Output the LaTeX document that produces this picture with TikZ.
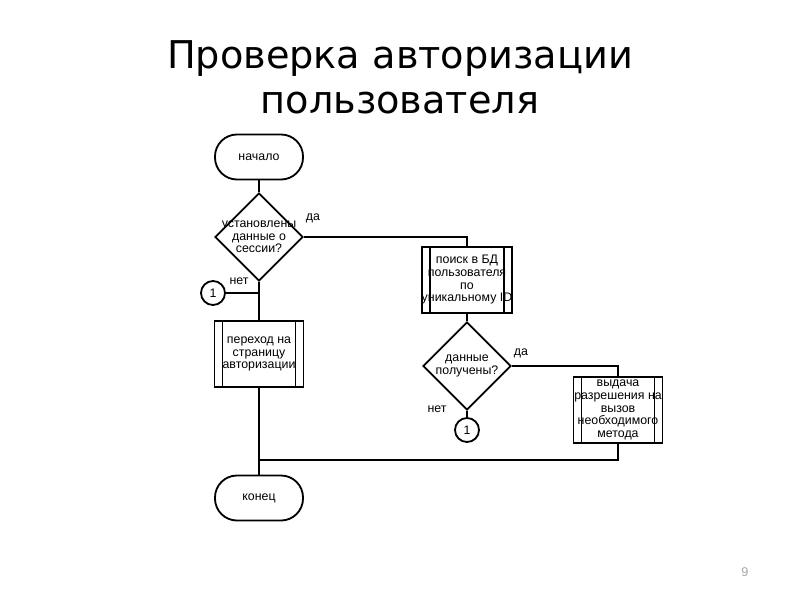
\documentclass[tikz,border=0pt]{standalone}
\usepackage{fontspec}
\setmainfont{Liberation Sans}
\newfontfamily\titlefont{DejaVu Sans}
\usetikzlibrary{shapes.geometric}
\tikzset{
  box/.style={draw, line width=1.3pt, align=center, font=\fontsize{8.8}{9}\selectfont},
  term/.style={box, rounded corners=0.55cm, minimum width=2.2cm, minimum height=1.125cm},
  decision/.style={box, diamond, aspect=1, minimum width=2.2cm, minimum height=2.2cm, inner sep=-6pt},
  subproc/.style={box, rectangle, minimum width=2.225cm, minimum height=1.65cm, inner sep=0pt,
    path picture={
      \draw[line width=1.3pt] ([xshift=0.2cm]path picture bounding box.north west) -- ([xshift=0.2cm]path picture bounding box.south west);
      \draw[line width=1.3pt] ([xshift=-0.2cm]path picture bounding box.north east) -- ([xshift=-0.2cm]path picture bounding box.south east);}},
  conn/.style={draw, circle, line width=1.3pt, minimum size=0.6cm, inner sep=0pt, font=\fontsize{8.8}{9}\selectfont},
  lbl/.style={font=\fontsize{8.8}{9}\selectfont, inner sep=1pt},
  line/.style={line width=1.5pt}
}
\begin{document}
\begin{tikzpicture}[x=0.025cm,y=-0.025cm]
  \useasboundingbox (0,0) rectangle (800,600);
  %titolo
  \node[font=\titlefont\fontsize{27.2}{32}\selectfont, align=center] (title) at (400,77) {Проверка авторизации\\пользователя};
  %blocchi
  \node[term] (start) at (259,157) {начало};
  \node[decision] (dec1) at (259,237) {установлены\\данные о\\сессии?};
  \node[subproc] (search) at (467,280) {поиск в БД\\пользователя\\по\\уникальному ID};
  \node[decision] (dec2) at (467,366) {данные\\получены?};
  \node[subproc] (allow) at (618,410) {выдача\\разрешения на\\вызов\\необходимого\\метода};
  \node[conn] (con2) at (467,430) {1};
  \node[conn] (con1) at (213,293) {1};
  \node[subproc] (redirect) at (259,354) {переход на\\страницу\\авторизации};
  \node[term] (stop) at (259,498) {конец};
  %punti di giunzione
  \coordinate (j1) at (dec1.south |- con1);
  \coordinate (j2) at (259,460);
  %collegamenti
  \draw[line] (start) -- (dec1);
  \draw[line] (dec1.east) -| (search.north);
  \draw[line] (dec1.south) -- (redirect.north);
  \draw[line] (con1) -- (j1);
  \draw[line] (redirect.south) -- (stop.north);
  \draw[line] (search) -- (dec2);
  \draw[line] (dec2.east) -| (allow.north);
  \draw[line] (dec2.south) -- (con2);
  \draw[line] (allow.south) |- (j2);
  %etichette
  \node[lbl] (yes1) at (313,218) {да};
  \node[lbl] (no1) at (239,281) {нет};
  \node[lbl] (yes2) at (521,353) {да};
  \node[lbl] (no2) at (437,409) {нет};
  %numero pagina
  \node[font=\fontsize{9}{10}\selectfont, text=gray!70] (page) at (745,572) {9};
\end{tikzpicture}
\end{document}
